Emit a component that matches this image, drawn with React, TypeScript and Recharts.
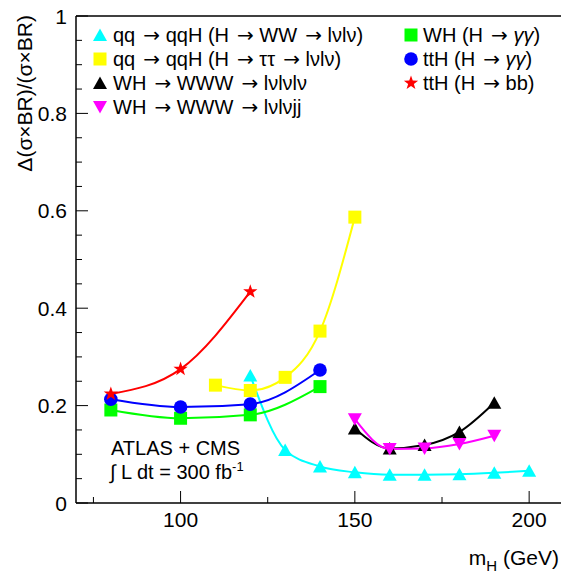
import { LineChart, Line, XAxis, YAxis, ReferenceLine } from "recharts";

const FONT = '"Liberation Sans", Arial, Helvetica, sans-serif';
const ARROW_FONT = '"DejaVu Sans", sans-serif';
const PLOT_LEFT = 76;
const PLOT_BOTTOM = 503;

// axis ticks (majors carry labels, the rest are minor ticks)
const xTicks = [75, 100, 125, 150, 175, 200];
const xMajor = [100, 150, 200];
const yTicks = [0, 0.05, 0.1, 0.15, 0.2, 0.25, 0.3, 0.35, 0.4, 0.45, 0.5, 0.55, 0.6, 0.65, 0.7, 0.75, 0.8, 0.85, 0.9, 0.95, 1];
const yMajor = [0, 0.2, 0.4, 0.6, 0.8, 1];

// qq -> qqH (H -> WW -> lvlv)
const massVbfWW = [120, 130, 140, 150, 160, 170, 180, 190, 200];
const errVbfWW = [0.262, 0.109, 0.075, 0.063, 0.058, 0.058, 0.059, 0.062, 0.066];
// qq -> qqH (H -> tautau -> lvlv)
const massVbfTT = [110, 120, 130, 140, 150];
const errVbfTT = [0.242, 0.231, 0.258, 0.353, 0.587];
// WH -> WWW -> lvlvlv
const massWWW = [150, 160, 170, 180, 190];
const errWWW3l = [0.153, 0.112, 0.119, 0.146, 0.206];
// WH -> WWW -> lvlvjj
const errWWW2l = [0.172, 0.111, 0.112, 0.121, 0.138];
// WH (H -> gg), ttH (H -> gg)
const massGG = [80, 100, 120, 140];
const errWHgg = [0.191, 0.174, 0.181, 0.239];
const errTTHgg = [0.213, 0.197, 0.203, 0.273];
// ttH (H -> bb)
const massBB = [80, 100, 120];
const errTTHbb = [0.224, 0.275, 0.434];

type Kind = "triUp" | "triDown" | "square" | "circle" | "star";

const toPoints = (mass: number[], vals: number[]) => mass.map((m, i) => ({ m, v: vals[i] }));

const series: { id: string; color: string; kind: Kind; data: { m: number; v: number }[] }[] = [
  { id: "vbfww", color: "#00ffff", kind: "triUp", data: toPoints(massVbfWW, errVbfWW) },
  { id: "vbftt", color: "#ffff00", kind: "square", data: toPoints(massVbfTT, errVbfTT) },
  { id: "www3", color: "#000000", kind: "triUp", data: toPoints(massWWW, errWWW3l) },
  { id: "www2", color: "#ff00ff", kind: "triDown", data: toPoints(massWWW, errWWW2l) },
  { id: "whgg", color: "#00ff00", kind: "square", data: toPoints(massGG, errWHgg) },
  { id: "tthgg", color: "#0000ff", kind: "circle", data: toPoints(massGG, errTTHgg) },
  { id: "tthbb", color: "#ff0000", kind: "star", data: toPoints(massBB, errTTHbb) },
];

function Marker({ kind, x, y, color }: { kind: Kind; x: number; y: number; color: string }) {
  if (kind === "triUp")
    return <polygon points={`${x},${y - 6.5} ${x + 7},${y + 6} ${x - 7},${y + 6}`} fill={color} />;
  if (kind === "triDown")
    return <polygon points={`${x},${y + 6.5} ${x + 7},${y - 6} ${x - 7},${y - 6}`} fill={color} />;
  if (kind === "square") return <rect x={x - 6.5} y={y - 6.5} width={13} height={13} fill={color} />;
  if (kind === "circle") return <circle cx={x} cy={y} r={6.8} fill={color} />;
  const pts: string[] = [];
  for (let i = 0; i < 10; i++) {
    const r = i % 2 === 0 ? 7.5 : 3;
    const a = -Math.PI / 2 + (i * Math.PI) / 5;
    pts.push(`${x + r * Math.cos(a)},${y + r * Math.sin(a)}`);
  }
  return <polygon points={pts.join(" ")} fill={color} />;
}

// arrows in the reference come from a symbol font, so they are wider
function Label({ text }: { text: string }) {
  const parts = text.split("→");
  return (
    <>
      {parts.map((p, i) => (
        <tspan key={i} dx={i > 0 ? 2.5 : 0}>
          {i > 0 && (
            <tspan fontFamily={ARROW_FONT} dx={2.5}>
              →
            </tspan>
          )}
          {p.split(/(γγ)/).map((q, j) =>
            q === "γγ" ? (
              <tspan key={j} fontStyle="italic">
                {q}
              </tspan>
            ) : (
              q
            )
          )}
        </tspan>
      ))}
    </>
  );
}

const XTick = (props: any) => {
  const { x, payload } = props;
  const major = xMajor.includes(payload.value);
  return (
    <g>
      <line x1={x} x2={x} y1={PLOT_BOTTOM} y2={PLOT_BOTTOM - (major ? 12 : 6)} stroke="#000" strokeWidth={1} />
      {major && (
        <text x={x} y={527} textAnchor="middle" fontSize={21} fontFamily={FONT} fill="#000">
          {payload.value}
        </text>
      )}
    </g>
  );
};

const YTick = (props: any) => {
  const { y, payload } = props;
  const major = yMajor.includes(payload.value);
  return (
    <g>
      <line x1={PLOT_LEFT} x2={PLOT_LEFT + (major ? 12 : 6)} y1={y} y2={y} stroke="#000" strokeWidth={1} />
      {major && (
        <text x={67} y={y + 7.5} textAnchor="end" fontSize={21} fontFamily={FONT} fill="#000">
          {payload.value === 0 || payload.value === 1 ? payload.value : payload.value.toFixed(1)}
        </text>
      )}
    </g>
  );
};

const legendLeft = [
  { s: 0, label: "qq → qqH (H → WW → lνlν)" },
  { s: 1, label: "qq → qqH (H → ττ → lνlν)" },
  { s: 2, label: "WH → WWW → lνlνlν" },
  { s: 3, label: "WH → WWW → lνlνjj" },
];
const legendRight = [
  { s: 4, label: "WH (H → γγ)" },
  { s: 5, label: "ttH (H → γγ)" },
  { s: 6, label: "ttH (H → bb)" },
];
const rowY = [35, 59, 83, 107];

export default function App() {
  return (
    <div style={{ position: "absolute", left: 0, top: 0, width: 561, height: 574, overflow: "hidden", background: "#fff" }}>
      <LineChart width={566} height={574} margin={{ top: 16, right: 2, bottom: 0, left: 0 }}>
        <XAxis
          type="number"
          dataKey="m"
          domain={[70, 210]}
          ticks={xTicks}
          interval={0}
          allowDataOverflow
          height={71}
          tickLine={false}
          tick={<XTick />}
          axisLine={{ stroke: "#000", strokeWidth: 1.5 }}
        />
        <YAxis
          type="number"
          domain={[0, 1]}
          ticks={yTicks}
          interval={0}
          width={76}
          tickLine={false}
          tick={<YTick />}
          axisLine={{ stroke: "#000", strokeWidth: 1.5 }}
        />
        <ReferenceLine y={1} stroke="#000" strokeWidth={1.5} />
        {series.map((s) => (
          <Line
            key={s.id + "-line"}
            data={s.data}
            dataKey="v"
            type="monotone"
            stroke={s.color}
            strokeWidth={2}
            dot={false}
            activeDot={false}
            isAnimationActive={false}
          />
        ))}
        {series.map((s) => (
          <Line
            key={s.id + "-pts"}
            data={s.data}
            dataKey="v"
            type="monotone"
            stroke="none"
            dot={(p: any) =>
              p.cx == null ? <g key={p.index} /> : <Marker key={p.index} kind={s.kind} x={p.cx} y={p.cy} color={s.color} />
            }
            activeDot={false}
            isAnimationActive={false}
          />
        ))}
      </LineChart>
      <svg
        width={561}
        height={574}
        style={{ position: "absolute", left: 0, top: 0, pointerEvents: "none" }}
        fontFamily={FONT}
      >
        {legendLeft.map((it, i) => (
          <g key={it.label}>
            <Marker kind={series[it.s].kind} x={100} y={rowY[i]} color={series[it.s].color} />
            <text x={113} y={rowY[i] + 7} fontSize={20} fill="#000">
              <Label text={it.label} />
            </text>
          </g>
        ))}
        {legendRight.map((it, i) => (
          <g key={it.label}>
            <Marker kind={series[it.s].kind} x={411} y={rowY[i]} color={series[it.s].color} />
            <text x={423} y={rowY[i] + 7} fontSize={20} fill="#000">
              <Label text={it.label} />
            </text>
          </g>
        ))}
        <text x={111} y={455} fontSize={20} fill="#000">
          ATLAS + CMS
        </text>
        <text x={110} y={479} fontSize={20} fill="#000">
          ∫ L dt = 300 fb<tspan fontSize={13} dy={-8}>-1</tspan>
        </text>
        <text x={559} y={565} textAnchor="end" fontSize={21} fill="#000">
          m<tspan fontSize={15} dy={6}>H</tspan>
          <tspan dy={-6}> (GeV)</tspan>
        </text>
        <text transform="translate(32,15) rotate(-90)" textAnchor="end" fontSize={21} fill="#000">
          Δ(σ×BR)/(σ×BR)
        </text>
      </svg>
    </div>
  );
}
